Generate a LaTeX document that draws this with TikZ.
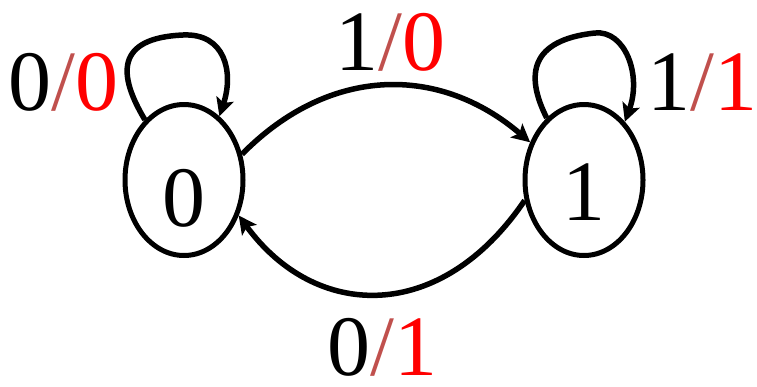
\documentclass[tikz,border=0pt]{standalone}
\usepackage{fontspec}
\setmainfont{Liberation Serif}
\usetikzlibrary{shapes.geometric,arrows.meta}
\definecolor{slashc}{RGB}{192,80,77}
\definecolor{outred}{RGB}{255,0,0}
\newcommand{\io}[2]{#1{\color{slashc}/}{\color{outred}#2}}
\tikzset{
  state/.style={ellipse,draw,line width=5pt,minimum width=118pt,minimum height=151pt,inner sep=0pt},
  big/.style={inner sep=0pt,font=\fontsize{86}{86}\selectfont},
  arr/.style={line width=5.5pt,-{Stealth[length=18pt,width=18pt,inset=4pt]}}
}
\begin{document}
\begin{tikzpicture}[x=1pt,y=-1pt]
\useasboundingbox (0,0) rectangle (757,386);
\node[state] (s0) at (184,180) {};
\node[state] (s1) at (584,180) {};
\node[big,anchor=base] (t0) at (184,226) {0};
\node[big,anchor=base] (t1) at (584,220) {1};
\node[big,anchor=base west] (l00) at (8,110) {\io{0}{0}};
\node[big,anchor=base west] (l10) at (335,70) {\io{1}{0}};
\node[big,anchor=base west] (l11) at (647,110) {\io{1}{1}};
\node[big,anchor=base west] (l01) at (327,375) {\io{0}{1}};
% self loop on 0
\draw[arr] (s0.123) .. controls (118,75) and (115,38) .. (183,35)
  .. controls (225,33) and (234,72) .. (s0.61);
% self loop on 1
\draw[arr] (s1.121) .. controls (525,75) and (530,40) .. (595,33)
  .. controls (625,30) and (642,75) .. (s1.55);
% 0 -> 1
\draw[arr] (s0.24) .. controls (330,65) and (440,65) .. (s1.145);
% 1 -> 0
\draw[arr] (s1.199) .. controls (440,325) and (315,320) .. (s0.-33);
\end{tikzpicture}
\end{document}
